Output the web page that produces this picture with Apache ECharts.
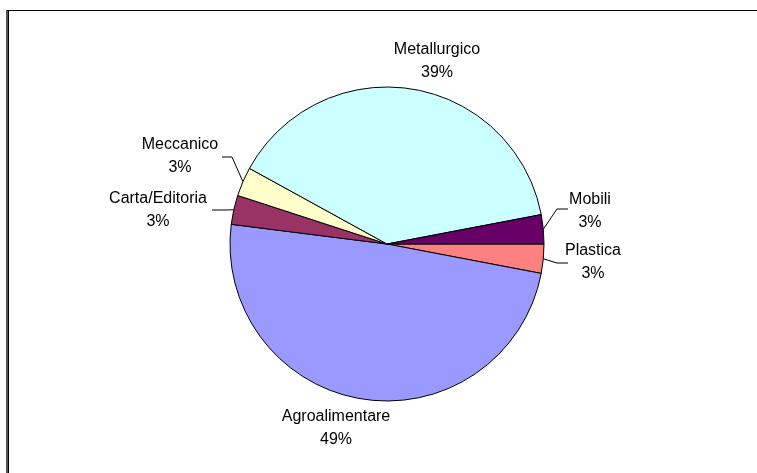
<!DOCTYPE html>
<html>
<head>
<meta charset="utf-8">
<script src="https://cdn.jsdelivr.net/npm/echarts@6/dist/echarts.min.js"></script>
<style>
  html, body { margin: 0; padding: 0; background: #fff; }
  #chart { width: 757px; height: 473px; }
</style>
</head>
<body>
<div id="chart"></div>
<script>
// Sectors, clockwise from 3 o'clock
const categories = ['Plastica', 'Agroalimentare', 'Carta/Editoria', 'Meccanico', 'Metallurgico', 'Mobili'];
const shares = [3, 49, 3, 3, 39, 3];
const sliceColors = ['#FF8080', '#9999FF', '#993366', '#FFFFCC', '#CCFFFF', '#660066'];

// Where each two-line label sits, plus the elbow of its leader line (if any)
const labelSpots = {
  'Plastica':       { x: 593, y: 262, line: [[557, 263], [568, 263]] },
  'Agroalimentare': { x: 336, y: 428, line: null },
  'Carta/Editoria': { x: 158, y: 210, line: [[225, 210], [212, 210]] },
  'Meccanico':      { x: 180, y: 156, line: [[232, 157], [222, 157]] },
  'Metallurgico':   { x: 437, y: 61,  line: null },
  'Mobili':         { x: 590, y: 211, line: [[557, 209], [568, 209]] }
};

const chart = echarts.init(document.getElementById('chart'), null, { renderer: 'canvas' });

const pieData = categories.map((name, i) => ({
  name: name,
  value: shares[i],
  itemStyle: { color: sliceColors[i] },
  labelLine: { show: !!labelSpots[name].line }
}));

chart.setOption({
  backgroundColor: '#ffffff',
  animation: false,
  graphic: [
    // chart-area frame: top edge and shaded left edge
    { type: 'rect', shape: { x: 6, y: 10, width: 2, height: 470 }, style: { fill: '#555555' } },
    { type: 'line', shape: { x1: 7, y1: 10.5, x2: 757, y2: 10.5 }, style: { stroke: '#000', lineWidth: 1 } },
    { type: 'line', shape: { x1: 8.5, y1: 10, x2: 8.5, y2: 473 }, style: { stroke: '#000', lineWidth: 1 } }
  ],
  series: [{
    type: 'pie',
    center: [387, 244],
    radius: 157,
    startAngle: 0,
    clockwise: true,
    percentPrecision: 0,
    avoidLabelOverlap: false,
    itemStyle: { borderColor: '#000', borderWidth: 1 },
    label: {
      show: true,
      position: 'outside',
      formatter: '{b}\n{d}%',
      fontFamily: 'Liberation Sans, Arial, sans-serif',
      fontSize: 16,
      lineHeight: 23,
      color: '#000',
      align: 'center'
    },
    labelLine: { lineStyle: { color: '#000', width: 1 }, length: 10, length2: 10 },
    labelLayout: function (p) {
      const spot = labelSpots[categories[p.dataIndex]];
      const out = { x: spot.x, y: spot.y, align: 'center', verticalAlign: 'middle' };
      if (spot.line && p.labelLinePoints) {
        out.labelLinePoints = [p.labelLinePoints[0], spot.line[0], spot.line[1]];
      }
      return out;
    },
    emphasis: { disabled: true },
    data: pieData
  }]
});
</script>
</body>
</html>
